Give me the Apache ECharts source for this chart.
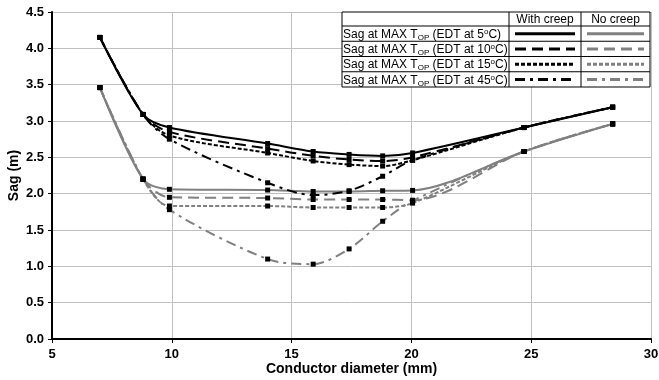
<!DOCTYPE html>
<html>
<head>
    <meta charset="utf-8" />
    <title>Sag vs conductor diameter</title>
    <style>
        html, body { margin: 0; padding: 0; background: #fff; }
        #main { width: 659px; height: 380px; }
    </style>
</head>
<body>
<div id="main"></div>
<script src="https://cdn.jsdelivr.net/npm/echarts@6/dist/echarts.min.js"></script>
<script type="text/javascript">
    // conductor diameters (mm)
    var diameters = [7, 8.8, 9.9, 14, 15.9, 17.4, 18.8, 20.05, 24.7, 28.4];

    // with creep (black)
    var creep5  = [4.15, 3.09, 2.91, 2.69, 2.58, 2.54, 2.52, 2.56, 2.91, 3.19];
    var creep10 = [4.15, 3.09, 2.85, 2.62, 2.52, 2.47, 2.45, 2.50, 2.91, 3.19];
    var creep15 = [4.15, 3.09, 2.80, 2.56, 2.45, 2.40, 2.38, 2.46, 2.91, 3.19];
    var creep45 = [4.15, 3.09, 2.75, 2.15, 1.98, 2.04, 2.24, 2.46, 2.91, 3.19];

    // no creep (grey)
    var nocreep5  = [3.46, 2.20, 2.06, 2.05, 2.03, 2.03, 2.04, 2.045, 2.58, 2.96];
    var nocreep10 = [3.46, 2.20, 1.95, 1.94, 1.92, 1.92, 1.92, 1.91, 2.58, 2.96];
    var nocreep15 = [3.46, 2.20, 1.83, 1.83, 1.81, 1.81, 1.81, 1.87, 2.58, 2.96];
    var nocreep45 = [3.46, 2.20, 1.78, 1.10, 1.03, 1.24, 1.62, 1.90, 2.58, 2.96];

    var edtTemps = ['5', '10', '15', '45'];
    var dashes = ['solid', [11, 6], [4, 2], [10, 5, 3, 5]];

    function pairs(ys) {
        return diameters.map(function (x, i) { return [x, ys[i]]; });
    }

    function makeSeries(name, ys, color, dash) {
        return {
            name: name,
            type: 'line',
            data: pairs(ys),
            smooth: 0.3,
            symbol: 'rect',
            symbolSize: 5,
            itemStyle: { color: '#000' },
            lineStyle: { color: color, width: 2, type: dash },
            emphasis: { disabled: true },
            z: color === '#000' ? 3 : 2
        };
    }

    var series = [
        makeSeries('nc5', nocreep5, '#808080', dashes[0]),
        makeSeries('nc10', nocreep10, '#808080', dashes[1]),
        makeSeries('nc15', nocreep15, '#808080', dashes[2]),
        makeSeries('nc45', nocreep45, '#808080', dashes[3]),
        makeSeries('c5', creep5, '#000', dashes[0]),
        makeSeries('c10', creep10, '#000', dashes[1]),
        makeSeries('c15', creep15, '#000', dashes[2]),
        makeSeries('c45', creep45, '#000', dashes[3])
    ];

    // legend table drawn as graphic
    var FONT = '"Liberation Sans", Arial';
    var tL = 342, tT = 12, tR = 650, hdrB = 26, rowH = 15.25;
    var c1 = 509, c2 = 581;
    var tB = hdrB + rowH * 4;
    var graphics = [];
    graphics.push({ type: 'rect', shape: { x: tL, y: tT, width: tR - tL, height: tB - tT },
        style: { fill: '#fff', stroke: '#000', lineWidth: 1 }, z: 100 });
    graphics.push({ type: 'line', shape: { x1: c1, y1: tT, x2: c1, y2: tB }, style: { stroke: '#000', lineWidth: 1 }, z: 101 });
    graphics.push({ type: 'line', shape: { x1: c2, y1: tT, x2: c2, y2: tB }, style: { stroke: '#000', lineWidth: 1 }, z: 101 });
    for (var r = 0; r < 4; r++) {
        var yl = hdrB + rowH * r;
        graphics.push({ type: 'line', shape: { x1: tL, y1: yl, x2: tR, y2: yl }, style: { stroke: '#000', lineWidth: 1 }, z: 101 });
    }
    graphics.push({ type: 'text', x: (c1 + c2) / 2, y: (tT + hdrB) / 2 + 1, z: 102,
        style: { text: 'With creep', font: '12px ' + FONT, fill: '#000', align: 'center', verticalAlign: 'middle' } });
    graphics.push({ type: 'text', x: (c2 + tR) / 2, y: (tT + hdrB) / 2 + 1, z: 102,
        style: { text: 'No creep', font: '12px ' + FONT, fill: '#000', align: 'center', verticalAlign: 'middle' } });
    edtTemps.forEach(function (t, i) {
        var cy = hdrB + rowH * i + rowH / 2;
        graphics.push({ type: 'text', x: tL + 1, y: cy + 1, z: 102,
            style: {
                text: '{n|Sag at MAX T}{sub|OP}{n| (EDT at ' + t + '}{sup|o}{n|C)}',
                fill: '#000',
                align: 'left', verticalAlign: 'middle',
                rich: {
                    n: { fontSize: 12, fontFamily: FONT, lineHeight: 14 },
                    sub: { fontSize: 8, fontFamily: FONT, verticalAlign: 'bottom', lineHeight: 9 },
                    sup: { fontSize: 8, fontFamily: FONT, verticalAlign: 'top', lineHeight: 6 }
                }
            } });
        graphics.push({ type: 'line', shape: { x1: c1 + 6, y1: cy, x2: c2 - 6, y2: cy }, z: 102,
            style: { stroke: '#000', lineWidth: 3, lineDash: dashes[i] === 'solid' ? null : dashes[i] } });
        graphics.push({ type: 'line', shape: { x1: c2 + 6, y1: cy, x2: tR - 6, y2: cy }, z: 102,
            style: { stroke: '#808080', lineWidth: 3, lineDash: dashes[i] === 'solid' ? null : dashes[i] } });
    });

    var myChart = echarts.init(document.getElementById('main'));
    var option = {
        backgroundColor: '#fff',
        animation: false,
        grid: { left: 52, right: 8, top: 12, bottom: 41, containLabel: false, outerBoundsMode: 'none' },
        xAxis: {
            type: 'value', min: 5, max: 30, interval: 5,
            name: 'Conductor diameter (mm)', nameLocation: 'middle', nameGap: 23, nameMoveOverlap: false,
            nameTextStyle: { fontFamily: FONT, fontWeight: 'bold', fontSize: 14, color: '#000' },
            axisLine: { lineStyle: { color: '#000', width: 2 } },
            axisTick: { show: true, length: 4, lineStyle: { color: '#000', width: 1 } },
            axisLabel: { fontFamily: FONT, fontWeight: 'bold', fontSize: 13, color: '#000', margin: 9 },
            splitLine: { show: true, lineStyle: { color: '#c0c0c0', width: 1 } }
        },
        yAxis: {
            type: 'value', min: 0, max: 4.5, interval: 0.5,
            name: 'Sag (m)', nameLocation: 'middle', nameGap: 31, nameMoveOverlap: false,
            nameTextStyle: { fontFamily: FONT, fontWeight: 'bold', fontSize: 14, color: '#000' },
            axisLine: { show: true, lineStyle: { color: '#000', width: 2 } },
            axisTick: { show: true, length: 4, lineStyle: { color: '#000', width: 1 } },
            axisLabel: { fontFamily: FONT, fontWeight: 'bold', fontSize: 13, color: '#000', margin: 8,
                formatter: function (v) { return v.toFixed(1); } },
            splitLine: { show: true, lineStyle: { color: '#c0c0c0', width: 1 } }
        },
        series: series,
        graphic: graphics
    };
    myChart.setOption(option);
</script>
</body>
</html>
